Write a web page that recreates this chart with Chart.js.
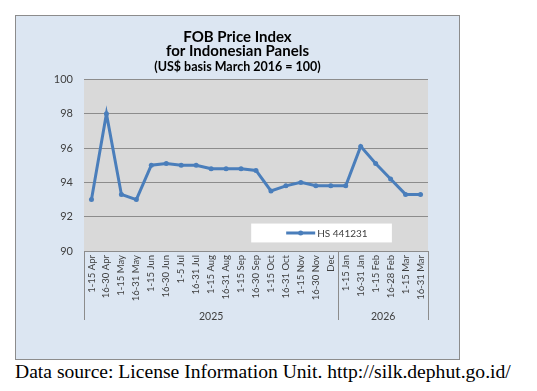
<!DOCTYPE html>
<html>
  <head>
    <meta charset="utf-8"/>
    <style type="text/css">
      body {
        margin: 0px;
        padding: 0px;
        background: #ffffff;
        width: 537px;
        height: 391px;
        position: relative;
        overflow: hidden;
      }
      #box {
        position: absolute;
        left: 15px;
        top: 15px;
        width: 445px;
        height: 345px;
        box-sizing: border-box;
        border: 1px solid #8c8c8c;
        background-color: #dce6f2;
      }
      #chart {
        position: absolute;
        left: 0;
        top: 0;
      }
      #source {
        position: absolute;
        left: 15px;
        top: 361px;
        font-family: "Liberation Serif", "DejaVu Serif", serif;
        font-size: 19.6px;
        color: #000;
        white-space: nowrap;
      }
    </style>
  </head>
  <body>
    <div id="box"><canvas id="chart" width="443" height="343"></canvas></div>
    <div id="source">Data source: License Information Unit. http://silk.dephut.go.id/</div>
  </body>
  <script src="https://cdn.jsdelivr.net/npm/chart.js@4/dist/chart.umd.min.js"></script>
  <script>
    // periods (half months), grouped by year below
    var categories = ['1-15 Apr', '16-30 Apr', '1-15 May', '16-31 May', '1-15 Jun', '16-30 Jun',
      '1-5 Jul', '16-31 Jul', '1-15 Aug', '16-31 Aug', '1-15 Sep', '16-30 Sep', '1-15 Oct',
      '16-31 Oct', '1-15 Nov', '16-30 Nov', 'Dec', '1-15 Jan', '16-31 Jan', '1-15 Feb',
      '16-28 Feb', '1-15 Mar', '16-31 Mar'];
    var hs441231 = [93.0, 98.0, 93.3, 93.0, 95.0, 95.1, 95.0, 95.0, 94.8, 94.8, 94.8, 94.7,
      93.5, 93.8, 94.0, 93.8, 93.8, 93.8, 96.1, 95.1, 94.2, 93.3, 93.3];
    var years = ['2025', '2026'];
    var yearCounts = [17, 6];
    var seriesName = 'HS 441231';

    var FONT = 'Lato, "Open Sans", sans-serif';
    var LINE = '#4a7ebb';
    var GRID = '#8c8c8c';

    // running boundaries of each year group, in category units
    var bounds = [0];
    yearCounts.forEach(function(c) { bounds.push(bounds[bounds.length - 1] + c); });

    var plotBg = {
      id: 'plotBg',
      beforeDraw: function(chart) {
        var a = chart.chartArea, ctx = chart.ctx;
        ctx.save();
        ctx.fillStyle = '#d9d9d9';
        ctx.fillRect(a.left, a.top, a.right - a.left, a.bottom - a.top);
        ctx.restore();
      }
    };

    var groupLines = {
      id: 'groupLines',
      afterDraw: function(chart) {
        var ys = chart.scales.year, ctx = chart.ctx;
        var top = chart.chartArea.bottom, bottom = ys.top + 12;
        ctx.save();
        ctx.strokeStyle = GRID;
        ctx.lineWidth = 1;
        bounds.forEach(function(b) {
          var x = Math.round(ys.getPixelForValue(b)) + 0.5;
          ctx.beginPath();
          ctx.moveTo(x, top);
          ctx.lineTo(x, bottom);
          ctx.stroke();
        });
        ctx.restore();
      }
    };

    var boxLegend = {
      id: 'boxLegend',
      afterDraw: function(chart) {
        var a = chart.chartArea, ctx = chart.ctx;
        var w = a.right - a.left, h = a.bottom - a.top;
        var x0 = a.left + w * 0.486, x1 = a.left + w * 0.895;
        var y0 = a.top + h * 0.84, y1 = a.top + h * 0.95;
        var cy = (y0 + y1) / 2;
        ctx.save();
        ctx.fillStyle = '#ffffff';
        ctx.fillRect(x0, y0, x1 - x0, y1 - y0);
        ctx.strokeStyle = LINE;
        ctx.lineWidth = 3;
        ctx.beginPath();
        ctx.moveTo(x0 + 35, cy);
        ctx.lineTo(x0 + 64, cy);
        ctx.stroke();
        ctx.fillStyle = LINE;
        ctx.beginPath();
        ctx.arc(x0 + 49.5, cy, 2.5, 0, Math.PI * 2);
        ctx.fill();
        ctx.fillStyle = '#404040';
        ctx.font = '10px ' + FONT;
        ctx.textBaseline = 'middle';
        ctx.fillText(seriesName, x0 + 66, cy + 0.5);
        ctx.restore();
      }
    };

    new Chart(document.getElementById('chart'), {
      type: 'line',
      data: {
        labels: categories,
        datasets: [{
          label: seriesName,
          data: hs441231,
          borderColor: LINE,
          backgroundColor: LINE,
          borderWidth: 3,
          pointRadius: 2.5,
          pointBorderWidth: 0,
          tension: 0,
          xAxisID: 'x',
          yAxisID: 'y'
        }]
      },
      options: {
        responsive: false,
        animation: false,
        layout: { padding: { left: 31, right: 31, top: 0, bottom: 37 } },
        plugins: {
          legend: { display: false },
          tooltip: { enabled: false },
          title: {
            display: true,
            text: ['FOB Price Index', 'for Indonesian Panels'],
            color: '#000',
            font: { family: FONT, size: 15, weight: 'bold', lineHeight: 0.95 },
            padding: { top: 14, bottom: 0 }
          },
          subtitle: {
            display: true,
            text: '(US$ basis March 2016 = 100)',
            color: '#000',
            font: { family: FONT, size: 12.5, weight: 'bold', lineHeight: 1.2 },
            padding: { top: 1, bottom: 5 }
          }
        },
        scales: {
          x: {
            type: 'category',
            position: 'bottom',
            offset: true,
            grid: { display: false, drawTicks: false },
            border: { display: false },
            ticks: {
              autoSkip: false,
              minRotation: 90,
              maxRotation: 90,
              padding: 4,
              color: '#404040',
              font: { family: FONT, size: 9.5 }
            },
            afterFit: function(s) { s.height = 57; }
          },
          year: {
            type: 'linear',
            position: 'bottom',
            min: 0,
            max: bounds[bounds.length - 1],
            grid: { display: false, drawTicks: false },
            border: { display: false },
            afterBuildTicks: function(s) {
              s.ticks = years.map(function(y, i) {
                return { value: (bounds[i] + bounds[i + 1]) / 2 };
              });
            },
            ticks: {
              callback: function(v, i) { return years[i]; },
              minRotation: 0,
              maxRotation: 0,
              padding: 2,
              color: '#404040',
              font: { family: FONT, size: 10.5 }
            },
            afterFit: function(s) { s.height = 14; }
          },
          y: {
            min: 90,
            max: 100,
            ticks: {
              stepSize: 2,
              padding: 11,
              color: '#404040',
              font: { family: FONT, size: 11 }
            },
            grid: { color: GRID, drawTicks: false },
            border: { display: false },
            afterFit: function(s) { s.width = 37; }
          }
        }
      },
      plugins: [plotBg, groupLines, boxLegend]
    });
  </script>
</html>
